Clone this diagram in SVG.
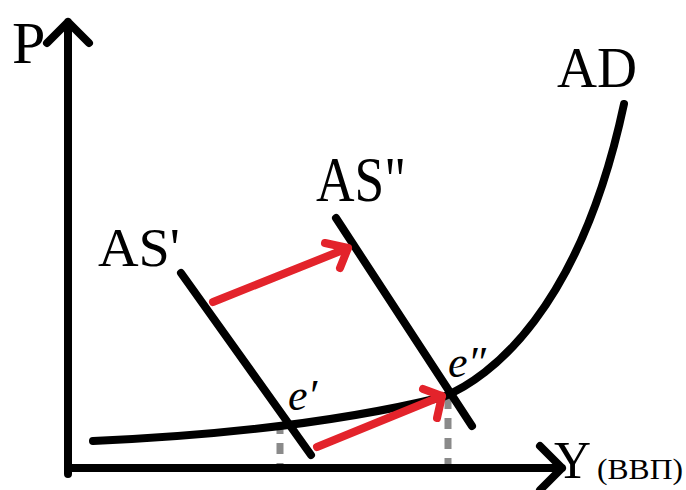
<svg xmlns="http://www.w3.org/2000/svg" width="686" height="490" viewBox="0 0 686 490">
<style>
.ln{fill:none;stroke:#000;stroke-width:8;stroke-linecap:round;stroke-linejoin:round}
.red{fill:none;stroke:#e3232b;stroke-width:8;stroke-linecap:round;stroke-linejoin:round}
.gd{stroke:#8a8a8a;stroke-width:7;stroke-dasharray:11 9}
.t{font-family:"Liberation Serif","Times New Roman",serif;fill:#000}
.e{font-family:"Liberation Serif","Times New Roman",serif;font-style:italic;fill:#000;font-size:44px}
</style>
<rect width="686" height="490" fill="#fff"/>
<g id="guides">
<line class="gd" x1="280" y1="423" x2="280" y2="466"/>
<line class="gd" x1="448" y1="398" x2="448" y2="466" stroke-dasharray="10 17 12 19"/>
</g>
<g id="axes">
<path class="ln" d="M68,474 L68,22 M47,43 L68,22 L89,43"/>
<path class="ln" d="M68,468 L562,468 M540,446 L562,468 L540,490"/>
<text class="t" x="554" y="478" font-size="52" textLength="37" lengthAdjust="spacingAndGlyphs">Y</text>
<text class="t" x="597" y="479" font-size="30" textLength="86" lengthAdjust="spacingAndGlyphs">(ВВП)</text>
<text class="t" x="12" y="63" font-size="60">P</text>
</g>
<g id="AD">
<path class="ln" d="M93,441 Q300,432 443,397 C490,378 580,310 624,104"/>
<text class="t" x="557" y="87" font-size="56" textLength="80" lengthAdjust="spacingAndGlyphs">AD</text>
</g>
<g id="AS1">
<path class="ln" d="M181,273 L311,455"/>
<text class="t" x="98" y="266" font-size="54" textLength="82" lengthAdjust="spacingAndGlyphs">AS'</text>
</g>
<g id="AS2">
<path class="ln" d="M336,218 L472,426"/>
<text class="t" x="316" y="201" font-size="64" textLength="90" lengthAdjust="spacingAndGlyphs">AS"</text>
</g>
<g id="e1"><text class="e" x="288" y="410">e′</text></g>
<g id="e2"><text class="e" x="448" y="377">e″</text></g>
<g id="connectors">
<path class="red" d="M213,302 L348,248 M325,243 L348,248 L340,268"/>
<path class="red" d="M317,447 L442,396 M423,389 L442,396 L437,418"/>
</g>
</svg>
